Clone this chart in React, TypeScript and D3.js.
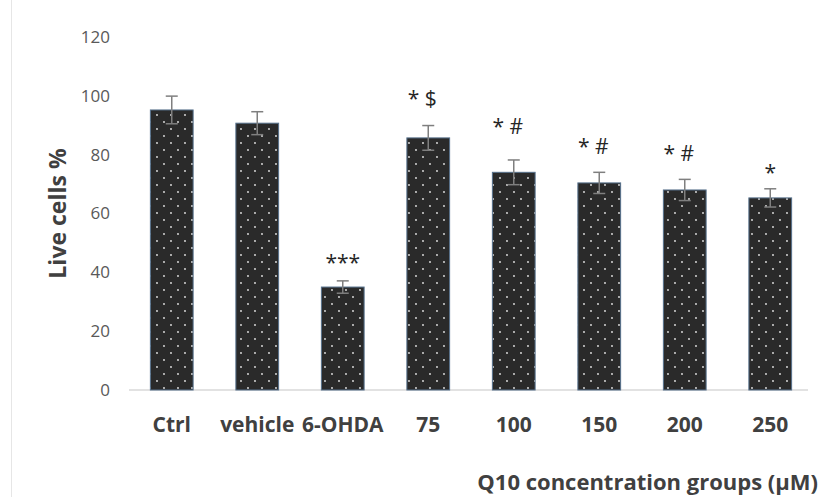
import * as d3 from 'd3';

const groups = ['Ctrl', 'vehicle', '6-OHDA', '75', '100', '150', '200', '250'];
const liveCells = [95.2, 90.7, 35.0, 85.7, 74.0, 70.4, 68.0, 65.3];
const errors = [4.7, 3.9, 2.1, 4.2, 4.2, 3.6, 3.6, 3.1];
const marks = ['', '', '***', '* $', '* #', '* #', '* #', '*'];
const markHeights = [0, 0, 43.2, 99, 89.5, 82.7, 80.3, 74];
const yTicks = [0, 20, 40, 60, 80, 100, 120];

const W = 822;
const H = 497;
const font = '"Open Sans", sans-serif';

export default function App() {
  const x = d3.scaleBand().domain(groups).range([129, 813]).paddingInner(0.5).paddingOuter(0.25);
  const y = d3.scaleLinear().domain([0, 120]).range([390, 37]);
  const bw = x.bandwidth();

  return (
    <svg width={W} height={H} style={{ position: 'absolute', left: 0, top: 0, background: '#fff' }}>
      <defs>
        <pattern id="dots" width={14} height={14} patternUnits="userSpaceOnUse">
          <rect width={14} height={14} fill="#2a2a2a" />
          <circle cx={3} cy={3} r={0.9} fill="#e8e8e8" />
          <circle cx={10} cy={10} r={0.9} fill="#e8e8e8" />
        </pattern>
      </defs>
      <line x1={11.5} x2={11.5} y1={0} y2={H} stroke="#e6e6e6" />

      {yTicks.map((t) => (
        <text key={t} x={110} y={y(t)} dy="0.35em" textAnchor="end" fontFamily={font} fontSize={17} fill="#595959">
          {t}
        </text>
      ))}
      <g transform={`translate(66,${y(60)})`}>
        <text transform="rotate(-90)" textAnchor="middle" fontFamily={font} fontWeight="bold" fontSize={23} fill="#404040">
          Live cells %
        </text>
      </g>

      <line x1={x.range()[0]} x2={x.range()[1] - 5} y1={y(0)} y2={y(0)} stroke="#d9d9d9" strokeWidth={1.5} />

      {groups.map((g, i) => {
        const cx = (x(g) ?? 0) + bw / 2;
        const top = y(liveCells[i] + errors[i]);
        const bottom = y(liveCells[i] - errors[i]);
        const shift = marks[i].includes(' ') ? -6 : 0;
        return (
          <g key={g}>
            <rect x={x(g)} y={y(liveCells[i])} width={bw} height={y(0) - y(liveCells[i])} fill="url(#dots)" stroke="#56718c" strokeWidth={1} />
            <line x1={cx} x2={cx} y1={bottom} y2={top} stroke="#7f7f7f" strokeWidth={1.5} />
            <line x1={cx - 6} x2={cx + 6} y1={top} y2={top} stroke="#7f7f7f" strokeWidth={1.5} />
            <line x1={cx - 6} x2={cx + 6} y1={bottom} y2={bottom} stroke="#7f7f7f" strokeWidth={1.5} />
            {marks[i] && (
              <text x={cx + shift} y={y(markHeights[i])} dy="0.35em" textAnchor="middle" fontFamily={font} fontSize={21} fill="#262626">
                {marks[i]}
              </text>
            )}
            <text x={cx} y={425} dy="0.35em" textAnchor="middle" fontFamily={font} fontWeight="bold" fontSize={21} fill="#404040">
              {g}
            </text>
          </g>
        );
      })}

      <text x={818} y={482} dy="0.35em" textAnchor="end" fontFamily={font} fontWeight="bold" fontSize={22} fill="#404040">
        Q10 concentration groups (μM)
      </text>
    </svg>
  );
}
